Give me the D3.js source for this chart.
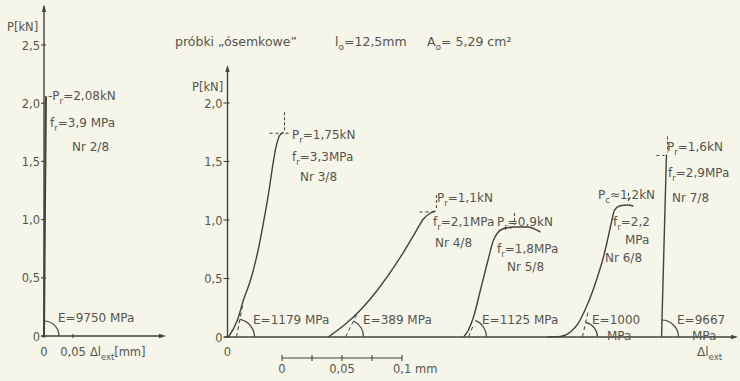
<!DOCTYPE html>
<html><head><meta charset="utf-8">
<script src="https://cdn.jsdelivr.net/npm/d3@7"></script>
<style>
body{margin:0;background:#f6f5ea;}
svg{display:block;}
text{font-family:"DejaVu Sans",sans-serif;fill:#55554d;}
</style></head><body>
<svg id="c" width="740" height="381"></svg>
<script>
// ---------- data ----------
const leftYTicks = [0, 0.5, 1, 1.5, 2, 2.5];
const leftYTickLabels = ["0", "0,5", "1,0", "1,5", "2,0", "2,5"];
const leftXTicks = [0, 0.05];
const leftXTickLabels = ["0", "0,05"];
const rightYTicks = [0, 0.5, 1, 1.5, 2];
const rightYTickLabels = ["0", "0,5", "1,0", "1,5", "2,0"];
const scaleBarTicks = [0, 0.025, 0.05, 0.075, 0.1];
const scaleBarLabels = ["0", "", "0,05", "", "0,1 mm"];

const specimens = ["Nr 2/8", "Nr 3/8", "Nr 4/8", "Nr 5/8", "Nr 6/8", "Nr 7/8"];
const breakLoad = ["2,08kN", "1,75kN", "1,1kN", "0,9kN", "1,2kN", "1,6kN"];
const breakStress = ["3,9 MPa", "3,3MPa", "2,1MPa", "1,8MPa", "2,2", "2,9MPa"];
const modulusLabels = ["E=9750 MPa", "E=1179 MPa", "E=389 MPa", "E=1125 MPa", "E=1000", "E=9667"];

// load–extension curves: Δl (mm), P (kN)
const nr2Dl = [0, 0.0017, 0.0034];
const nr2P  = [0, 1.10, 2.06];
const nr3Dl = [0.0008, 0.0083, 0.0133, 0.0192, 0.025, 0.0333, 0.0408, 0.0433, 0.0467];
const nr3P  = [0, 0.145, 0.316, 0.487, 0.718, 1.17, 1.64, 1.72, 1.75];
const nr4Dl = [0.0842, 0.0908, 0.0983, 0.1108, 0.125, 0.1442, 0.1567, 0.1633, 0.1692, 0.1733];
const nr4P  = [0, 0.051, 0.111, 0.231, 0.402, 0.684, 0.897, 1.009, 1.06, 1.077];
const nr5Dl = [0.1967, 0.2008, 0.205, 0.2108, 0.2167, 0.2217, 0.225, 0.2292, 0.2383, 0.25, 0.2608];
const nr5P  = [0, 0.06, 0.171, 0.402, 0.641, 0.829, 0.889, 0.923, 0.94, 0.94, 0.897];
const nr6Dl = [0.2667, 0.2775, 0.2858, 0.2925, 0.2975, 0.3025, 0.3083, 0.3133, 0.3167, 0.32, 0.3225, 0.3267, 0.3333, 0.3383];
const nr6P  = [0, 0.005, 0.043, 0.12, 0.222, 0.342, 0.513, 0.684, 0.829, 0.983, 1.085, 1.12, 1.128, 1.12];
const nr7Dl = [0.3617, 0.3658];
const nr7P  = [0, 1.56];

// tangent (modulus) lines: base Δl at P=0 and a top point
const tangentBaseDl = [0, 0.0075, 0.0983, 0.2008, 0.2958, 0.3617];
const tangentTopDl  = [0, 0.0125, 0.1075, 0.205, 0.3008, 0.3617];
const tangentTopP   = [0, 0.265, 0.188, 0.103, 0.231, 0.3];

// ---------- drawing ----------
const svg = d3.select("#c");
const INK = "#43433d";
const TXT = "#55554d";

const xL = d3.scaleLinear().domain([0, 0.05]).range([44, 73]);
const yL = d3.scaleLinear().domain([0, 2.5]).range([336, 45]);
const xR = d3.scaleLinear().domain([0, 0.1]).range([227.5, 347.5]);
const yR = d3.scaleLinear().domain([0, 2]).range([337, 103]);
const xS = d3.scaleLinear().domain([0, 0.1]).range([282, 402]);

function rich(x, y, parts, size, anchor) {
  const t = svg.append("text").attr("x", x).attr("y", y)
    .style("font-size", (size || 12) + "px")
    .attr("text-anchor", anchor || "start");
  let pend = 0;
  parts.forEach(p => {
    const isSub = typeof p !== "string";
    const s = t.append("tspan").text(isSub ? p.sub : p);
    if (isSub) {
      s.attr("dy", pend + 3.5).style("font-size", ((size || 12) * 0.72) + "px");
      pend = -3.5;
    } else {
      if (pend) s.attr("dy", pend);
      pend = 0;
    }
  });
  return t;
}
function seg(x1, y1, x2, y2, w, dash) {
  const l = svg.append("line").attr("x1", x1).attr("y1", y1).attr("x2", x2).attr("y2", y2)
    .attr("stroke", INK).attr("stroke-width", w || 1.3);
  if (dash) l.attr("stroke-dasharray", dash);
  return l;
}
function arrowUp(x, y) {
  svg.append("path").attr("d", `M${x - 2.2},${y + 7}L${x},${y}L${x + 2.2},${y + 7}Z`).attr("fill", INK);
}
function arrowRight(x, y) {
  svg.append("path").attr("d", `M${x - 7},${y - 2.2}L${x},${y}L${x - 7},${y + 2.2}Z`).attr("fill", INK);
}

// title
rich(175, 46, ["próbki „ósemkowe\u201D"], 12.5);
rich(335, 46, ["l", {sub: "o"}, "=12,5mm"], 12.5);
rich(427, 46, ["A", {sub: "o"}, "= 5,29 cm²"], 12.5);

// ----- left chart -----
seg(xL(0), yL(0), xL(0), 6, 1.4); arrowUp(xL(0), 5);
seg(xL(0) - 3, yL(0), 163, yL(0), 1.3); arrowRight(166, yL(0));
leftYTicks.forEach((v, i) => {
  seg(xL(0) - 3, yL(v), xL(0) + 2, yL(v), 1.1);
  rich(xL(0) - 4, yL(v) + 4.5, [leftYTickLabels[i]], 11.5, "end");
});
leftXTicks.forEach((v, i) => {
  seg(xL(v), yL(0) - 2, xL(v), yL(0) + 2, 1.1);
  rich(xL(v), yL(0) + 20, [leftXTickLabels[i]], 11.5, "middle");
});
rich(90, yL(0) + 20, ["Δl", {sub: "ext"}, "[mm]"], 11.5);
rich(7, 31, ["P[kN]"], 11.5);

const lineL = d3.line().x(d => xL(d[0])).y(d => yL(d[1])).curve(d3.curveMonotoneX);
svg.append("path").attr("d", lineL(nr2Dl.map((d, i) => [d, nr2P[i]])))
  .attr("fill", "none").attr("stroke", INK).attr("stroke-width", 2);

// arc
function arcAt(cx, cy, r, angDeg) {
  const a = angDeg * Math.PI / 180;
  const x2 = cx + r * Math.cos(a), y2 = cy - r * Math.sin(a);
  svg.append("path").attr("d", `M${cx + r},${cy}A${r},${r} 0 0 0 ${x2},${y2}`)
    .attr("fill", "none").attr("stroke", INK).attr("stroke-width", 1.2);
}
arcAt(xL(0), yL(0), 15, 90);
rich(58, 322, [modulusLabels[0]], 12);
rich(48, 100, ["-P", {sub: "r"}, "=" + breakLoad[0]], 12);
rich(50, 127, ["f", {sub: "r"}, "=" + breakStress[0]], 12);
rich(72, 151, [specimens[0]], 12);

// ----- right chart -----
seg(xR(0), yR(0), xR(0), 68, 1.4); arrowUp(xR(0), 65);
seg(xR(0) - 3, yR(0), 733, yR(0), 1.3); arrowRight(738, yR(0));
rightYTicks.forEach((v, i) => {
  seg(xR(0) - 4, yR(v), xR(0) + 2, yR(v), 1.1);
  rich(xR(0) - 5, yR(v) + 4.5, [rightYTickLabels[i]], 11.5, "end");
});
rich(xR(0), yR(0) + 19, ["0"], 11.5, "middle");
rich(192, 91, ["P[kN]"], 11.5);
rich(697, 356, ["Δl", {sub: "ext"}], 12);

// scale bar
seg(xS(0), 358, xS(0.1), 358, 1.2);
scaleBarTicks.forEach((v, i) => {
  seg(xS(v), 355, xS(v), 361, 1.1);
  if (scaleBarLabels[i]) rich(xS(v), 373, [scaleBarLabels[i]], 11.5, i === 4 ? "start" : "middle");
});
svg.selectAll("text").filter(function(){return d3.select(this).text()==="0,1 mm";}).attr("x", xS(0.1) - 9);

const lineR = d3.line().x(d => xR(d[0])).y(d => yR(d[1])).curve(d3.curveMonotoneX);
const curves = [[nr3Dl, nr3P], [nr4Dl, nr4P], [nr5Dl, nr5P], [nr6Dl, nr6P], [nr7Dl, nr7P]];
curves.forEach(([dl, p]) => {
  svg.append("path").attr("d", lineR(dl.map((d, i) => [d, p[i]])))
    .attr("fill", "none").attr("stroke", INK).attr("stroke-width", 1.4);
});

// peak markers (dashed)
const peakStyle = [[14, 8, 20], [16, 0, 16], [10, 0, 14], [0, 0, 12], [10, 0, 18]];
curves.forEach(([dl, p], k) => {
  const i = d3.maxIndex(p);
  const px = xR(dl[i]), py = yR(p[i]);
  const [hl, hr, vu] = peakStyle[k];
  if (hl) seg(px - hl, py + 1, px - 2, py + 1, 1, "3,3");
  if (hr) seg(px + 2, py + 1, px + hr, py + 1, 1, "3,3");
  seg(px + 1, py - vu, px + 1, py - 2, 1, "3,2");
});

// tangent lines and arcs
const arcRadius = [15, 18, 18, 18, 15, 17];
for (let k = 1; k < 6; k++) {
  const bx = xR(tangentBaseDl[k]), by = yR(0);
  let ang = 90;
  if (k < 5) {
    const tx = xR(tangentTopDl[k]), ty = yR(tangentTopP[k]);
    seg(bx, by, tx, ty, 1, "4,3");
    ang = Math.atan2(by - ty, tx - bx) * 180 / Math.PI;
  }
  arcAt(bx, by, arcRadius[k], ang);
}

// E labels
rich(253, 324, [modulusLabels[1]], 12);
rich(363, 324, [modulusLabels[2]], 12);
rich(482, 324, [modulusLabels[3]], 12);
rich(592, 324, [modulusLabels[4]], 12);
rich(607, 340, ["MPa"], 12);
rich(677, 324, [modulusLabels[5]], 12);
rich(692, 340, ["MPa"], 12);

// break annotations
rich(292, 139, ["P", {sub: "r"}, "=" + breakLoad[1]], 12);
rich(292, 161, ["f", {sub: "r"}, "=" + breakStress[1]], 12);
rich(300, 181, [specimens[1]], 12);

rich(437, 202, ["P", {sub: "r"}, "=" + breakLoad[2]], 12);
rich(433, 226, ["f", {sub: "r"}, "=" + breakStress[2]], 12);
rich(435, 247, [specimens[2]], 12);

rich(497, 226, ["P", {sub: "r"}, "=" + breakLoad[3]], 12);
rich(497, 253, ["f", {sub: "r"}, "=" + breakStress[3]], 12);
rich(507, 271, [specimens[3]], 12);

rich(598, 199, ["P", {sub: "c"}, "≈" + breakLoad[4]], 12);
rich(613, 226, ["f", {sub: "r"}, "=" + breakStress[4]], 12);
rich(625, 244, ["MPa"], 12);
rich(605, 262, [specimens[4]], 12);

rich(667, 151, ["P", {sub: "r"}, "=" + breakLoad[5]], 12);
rich(668, 177, ["f", {sub: "r"}, "=" + breakStress[5]], 12);
rich(672, 202, [specimens[5]], 12);
</script>
</body></html>
